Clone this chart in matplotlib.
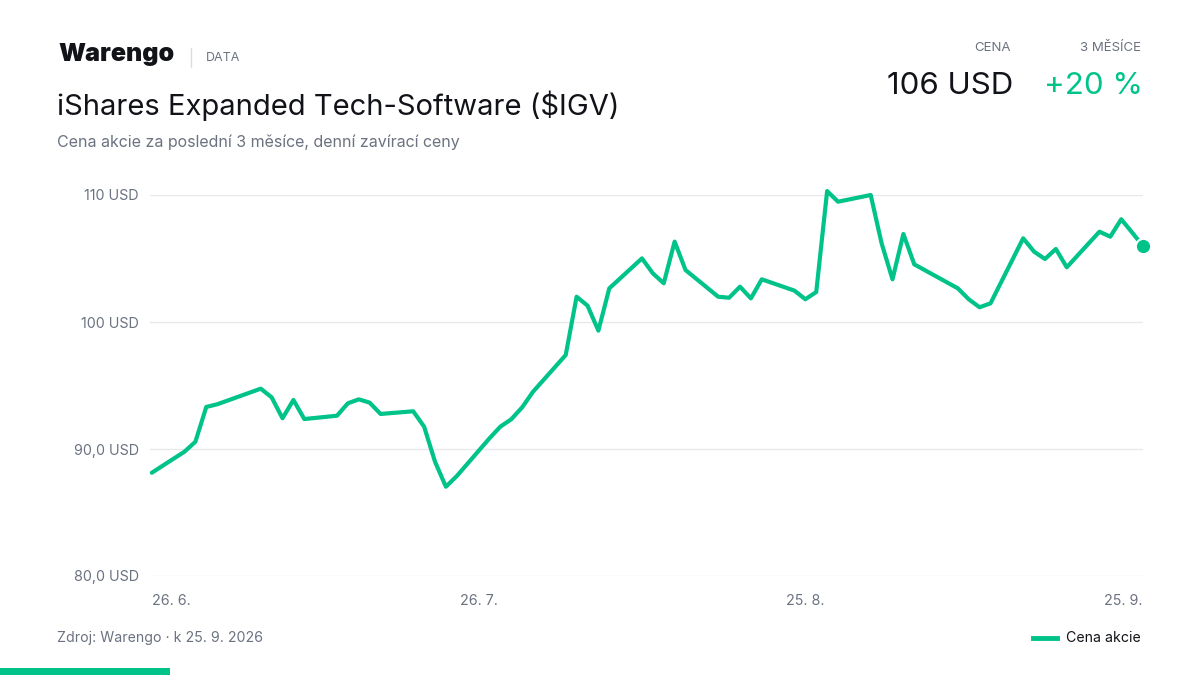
import pandas as pd
import matplotlib
matplotlib.use('Agg')
import matplotlib.pyplot as plt
from matplotlib.lines import Line2D
from matplotlib.patches import Rectangle

plt.rcParams['font.family'] = ['Inter', 'DejaVu Sans']

# data (daily closes, USD)
dates = ['2026-06-26', '2026-06-29', '2026-06-30', '2026-07-01', '2026-07-02',
         '2026-07-06', '2026-07-07', '2026-07-08', '2026-07-09', '2026-07-10',
         '2026-07-13', '2026-07-14', '2026-07-15', '2026-07-16', '2026-07-17',
         '2026-07-20', '2026-07-21', '2026-07-22', '2026-07-23', '2026-07-24',
         '2026-07-27', '2026-07-28', '2026-07-29', '2026-07-30', '2026-07-31',
         '2026-08-03', '2026-08-04', '2026-08-05', '2026-08-06', '2026-08-07',
         '2026-08-10', '2026-08-11', '2026-08-12', '2026-08-13', '2026-08-14',
         '2026-08-17', '2026-08-18', '2026-08-19', '2026-08-20', '2026-08-21',
         '2026-08-24', '2026-08-25', '2026-08-26', '2026-08-27', '2026-08-28',
         '2026-08-31', '2026-09-01', '2026-09-02', '2026-09-03', '2026-09-04',
         '2026-09-08', '2026-09-09', '2026-09-10', '2026-09-11',
         '2026-09-14', '2026-09-15', '2026-09-16', '2026-09-17', '2026-09-18',
         '2026-09-21', '2026-09-22', '2026-09-23', '2026-09-24', '2026-09-25']
prices = [88.13, 89.79, 90.57, 93.31, 93.52,
          94.75, 94.07, 92.42, 93.86, 92.36,
          92.62, 93.60, 93.91, 93.65, 92.76,
          92.97, 91.76, 89.00, 87.03, 87.87,
          90.84, 91.76, 92.34, 93.28, 94.51,
          97.40, 101.99, 101.29, 99.32, 102.65,
          105.01, 103.83, 103.05, 106.33, 104.09,
          101.99, 101.91, 102.78, 101.86, 103.36,
          102.47, 101.79, 102.36, 110.31, 109.47,
          110.00, 106.20, 103.36, 106.93, 104.54,
          102.65, 101.79, 101.16, 101.47,
          106.59, 105.54, 104.96, 105.75, 104.31,
          107.11, 106.72, 108.09, 107.05, 105.98]

y_ticks = [80, 90, 100, 110]
y_labels = ['80,0 USD', '90,0 USD', '100 USD', '110 USD']
x_ticks = ['2026-06-26', '2026-07-26', '2026-08-25', '2026-09-25']
x_labels = ['26. 6.', '26. 7.', '25. 8.', '25. 9.']

green = '#00C389'
gray = '#6B7280'
dark = '#111318'

d = pd.to_datetime(dates)

fig = plt.figure(figsize=(12, 6.75), dpi=100)
fig.patch.set_facecolor('white')

ax = fig.add_axes([150/1200, 1-576/675, (1143-150)/1200, (576-195)/675])
ax.plot(d, prices, color=green, lw=3, solid_joinstyle='round',
        solid_capstyle='round', clip_on=False, zorder=3)
ax.plot(d[-1:], prices[-1:], 'o', color=green, ms=11, mec='white', mew=1.5,
        clip_on=False, zorder=4)

ax.set_xlim(pd.Timestamp(dates[0]) - pd.Timedelta(hours=4), pd.Timestamp(dates[-1]))
ax.set_ylim(80, 110)
ax.set_yticks(y_ticks)
ax.set_yticklabels(y_labels)
ax.yaxis.grid(True, color='#E8E9EC', lw=1)
ax.set_axisbelow(True)
for s in ax.spines.values():
    s.set_visible(False)
ax.tick_params(axis='y', length=0, pad=8, labelsize=10.3, labelcolor=gray)
ax.set_xticks(pd.to_datetime(x_ticks))
ax.set_xticklabels(x_labels)
ax.tick_params(axis='x', length=0, pad=13, labelsize=10.3, labelcolor=gray)
xt = ax.get_xticklabels()
xt[0].set_ha('left')
xt[-1].set_ha('right')

# header
fig.text(58/1200, 1-55/675, 'Warengo', fontsize=18, fontweight='black',
         color=dark, va='center', ha='left')
fig.add_artist(Line2D([191/1200, 191/1200], [1-48/675, 1-67/675],
                      color='#DADCE0', lw=1))
fig.text(206/1200, 1-58/675, 'DATA', fontsize=9, color=gray,
         va='center', ha='left')
fig.text(57/1200, 1-106/675, 'iShares Expanded Tech-Software ($IGV)',
         fontsize=21, color=dark, va='center', ha='left')
fig.text(57/1200, 1-142/675, 'Cena akcie za poslední 3 měsíce, denní zavírací ceny',
         fontsize=11.5, color=gray, va='center', ha='left')

fig.text(1011/1200, 1-48/675, 'CENA', fontsize=9.5, color=gray,
         va='center', ha='right')
fig.text(1141/1200, 1-48/675, '3 MĚSÍCE', fontsize=9.5, color=gray,
         va='center', ha='right')
fig.text(1013/1200, 1-86/675, '106 USD', fontsize=22.5, color=dark,
         va='center', ha='right')
fig.text(1143/1200, 1-86/675, '+20 %', fontsize=22.5, color=green,
         va='center', ha='right')

# footer
fig.text(57/1200, 1-638/675, 'Zdroj: Warengo · k 25. 9. 2026', fontsize=10.2,
         color=gray, va='center', ha='left')
fig.add_artist(Line2D([1033/1200, 1057/1200], [1-638/675, 1-638/675],
                      color=green, lw=3.5))
fig.text(1066/1200, 1-638/675, 'Cena akcie', fontsize=10.2, color=dark,
         va='center', ha='left')
fig.add_artist(Rectangle((0, 0), 170/1200, 7/675, transform=fig.transFigure,
                         color=green, lw=0))

fig.savefig('out.png', dpi=100, facecolor='white')
